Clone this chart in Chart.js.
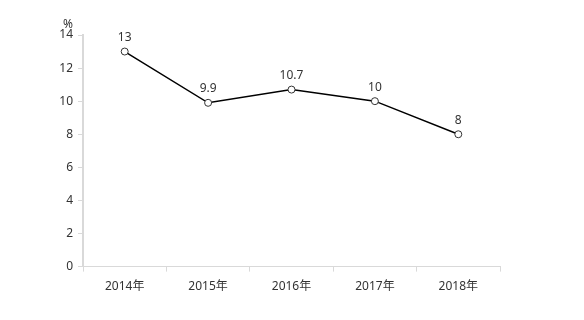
<!DOCTYPE html>
<html>
<head>
<meta charset="utf-8">
<script src="https://cdn.jsdelivr.net/npm/chart.js@4"></script>
<style>
  html, body { margin: 0; padding: 0; background: #fff; }
  #wrap { width: 584px; height: 320px; position: relative; }
</style>
</head>
<body>
<div id="wrap"><canvas id="chart"></canvas></div>
<script>
var years = ['2014年', '2015年', '2016年', '2017年', '2018年'];
var rates = [13, 9.9, 10.7, 10, 8];
var yUnit = '%';

var FONT = '"Noto Sans", "Noto Sans CJK SC", sans-serif';

// labels above each point
var pointLabels = {
	id: 'pointLabels',
	afterDatasetsDraw: function(chart) {
		var ctx = chart.ctx,
			meta = chart.getDatasetMeta(0);
		ctx.save();
		ctx.font = '12px ' + FONT;
		ctx.fillStyle = '#333';
		ctx.textAlign = 'center';
		ctx.textBaseline = 'bottom';
		meta.data.forEach(function(pt, i) {
			ctx.fillText(String(rates[i]), pt.x, pt.y - 8);
		});
		// unit over the y axis
		var y = chart.scales.y;
		ctx.textAlign = 'right';
		ctx.fillText(yUnit, y.right - 10, y.top - 4);
		ctx.restore();
	}
};

new Chart(document.getElementById('chart'), {
	type: 'line',
	data: {
		labels: years,
		datasets: [{
			data: rates,
			borderColor: '#000',
			borderWidth: 1.5,
			tension: 0,
			pointStyle: 'circle',
			pointRadius: 3.5,
			pointBorderWidth: 1,
			pointBorderColor: '#333',
			pointBackgroundColor: '#fff'
		}]
	},
	options: {
		responsive: true,
		maintainAspectRatio: false,
		animation: false,
		layout: { padding: { left: 0, top: 35, right: 84, bottom: 18 } },
		plugins: {
			legend: { display: false },
			tooltip: { enabled: false }
		},
		scales: {
			x: {
				offset: true,
				grid: {
					offset: true,
					drawOnChartArea: false,
					color: '#d9d9d9',
					tickLength: 5
				},
				border: { color: '#d9d9d9', width: 1 },
				ticks: {
					color: '#333',
					font: { family: FONT, size: 12 },
					padding: 8,
					maxRotation: 0
				}
			},
			y: {
				min: 0,
				max: 14,
				afterFit: function(scale) { scale.width = 83; },
				grid: {
					drawOnChartArea: false,
					color: '#d9d9d9',
					tickLength: 5
				},
				border: { color: '#d9d9d9', width: 2 },
				ticks: {
					stepSize: 2,
					color: '#333',
					font: { family: FONT, size: 12 },
					padding: 5
				}
			}
		}
	},
	plugins: [pointLabels]
});
</script>
</body>
</html>
